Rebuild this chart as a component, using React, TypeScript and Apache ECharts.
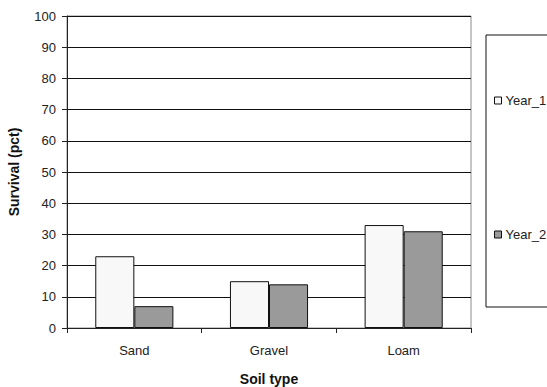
import React, { useEffect, useRef } from "react";
import * as echarts from "echarts";

const soilTypes = ["Sand", "Gravel", "Loam"];
const year1 = [23, 15, 33];
const year2 = [7, 14, 31];
const seriesNames = ["Year_1", "Year_2"];

const FONT = "Liberation Sans, Arial, sans-serif";

export default function App() {
  const ref = useRef<HTMLDivElement>(null);

  useEffect(() => {
    if (!ref.current) return;
    const chart = echarts.init(ref.current, undefined, { renderer: "svg" });
    chart.setOption({
      animation: false,
      backgroundColor: "#ffffff",
      textStyle: { fontFamily: FONT },
      grid: {
        left: 67,
        top: 16,
        right: 76,
        bottom: 59,
        outerBoundsMode: "none",
        containLabel: false,
        show: true,
        borderColor: "#8c8c8c",
        borderWidth: 1,
        backgroundColor: "transparent",
      },
      legend: {
        orient: "vertical",
        left: 494,
        top: 94,
        padding: 0,
        itemGap: 121,
        itemWidth: 7,
        itemHeight: 7,
        icon: "rect",
        itemStyle: { borderWidth: 1, borderColor: "#111" },
        textStyle: { fontSize: 13, color: "#222", fontFamily: FONT, padding: [0, 0, 0, -1] },
        data: seriesNames,
      },
      graphic: [
        {
          type: "rect",
          shape: { x: 486, y: 35, width: 90, height: 272 },
          style: { fill: "none", stroke: "#111", lineWidth: 1 },
          silent: true,
        },
      ],
      xAxis: {
        type: "category",
        data: soilTypes,
        name: "Soil type",
        nameLocation: "middle",
        nameGap: 44,
        nameTextStyle: { fontSize: 14, fontWeight: "bold", color: "#111", fontFamily: FONT },
        axisLine: { lineStyle: { color: "#222", width: 1 } },
        axisTick: { show: true, length: 5, lineStyle: { color: "#222" } },
        axisLabel: { fontSize: 13, color: "#222", margin: 16, fontFamily: FONT },
      },
      yAxis: {
        type: "value",
        min: 0,
        max: 100,
        interval: 10,
        name: "Survival (pct)",
        nameLocation: "middle",
        nameGap: 46,
        nameTextStyle: { fontSize: 14, fontWeight: "bold", color: "#111", fontFamily: FONT },
        axisLine: { show: true, lineStyle: { color: "#222", width: 1 } },
        axisTick: { show: true, length: 5, lineStyle: { color: "#222" } },
        axisLabel: { fontSize: 13, color: "#222", margin: 11, fontFamily: FONT },
        splitLine: { show: true, lineStyle: { color: "#111", width: 1 } },
      },
      series: [
        {
          name: seriesNames[0],
          type: "bar",
          data: year1,
          barGap: "0%",
          barCategoryGap: "42%",
          itemStyle: { color: "#f8f8f8", borderColor: "#111", borderWidth: 1 },
        },
        {
          name: seriesNames[1],
          type: "bar",
          data: year2,
          barGap: "0%",
          barCategoryGap: "42%",
          itemStyle: { color: "#9a9a9a", borderColor: "#111", borderWidth: 1 },
        },
      ],
    });
    return () => chart.dispose();
  }, []);

  return <div ref={ref} style={{ width: 547, height: 387, position: "absolute", left: 0, top: 0 }} />;
}
